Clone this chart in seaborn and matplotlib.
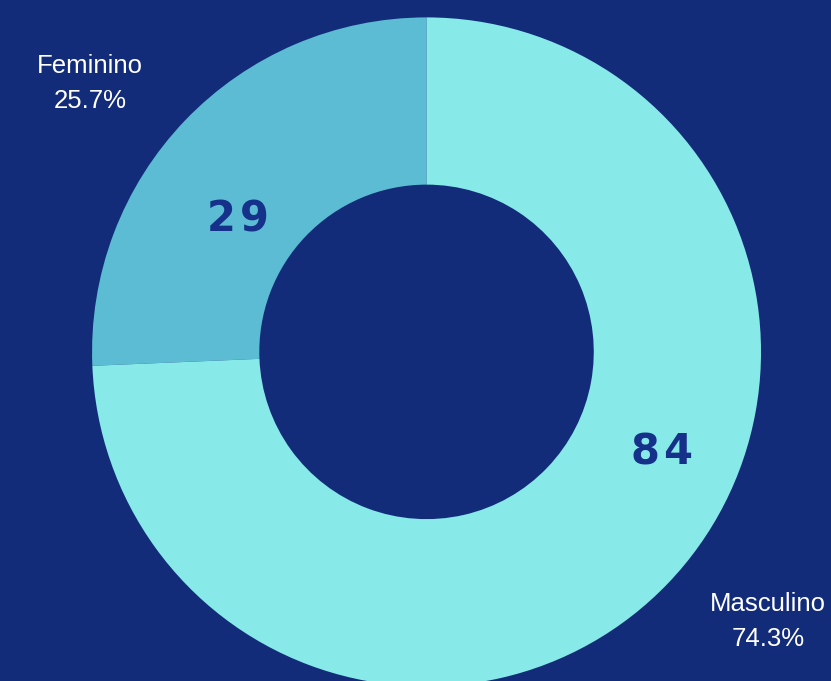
import matplotlib
matplotlib.use('Agg')
import matplotlib.pyplot as plt
import seaborn as sns

# Data
generos = ['Feminino', 'Masculino']
contagens = [29, 84]
percentuais = ['25.7%', '74.3%']
cores = ['#5bbcd4', '#87e9e8']

fundo = '#132c7a'
cor_numero = '#16318a'

sns.set_style('white')
plt.rcParams['font.family'] = ['Liberation Sans', 'DejaVu Sans']

fig = plt.figure(figsize=(8.31, 6.81), dpi=100, facecolor=fundo)
ax = fig.add_axes([0, 0, 1, 1])
ax.set_facecolor(fundo)

ax.pie(contagens, colors=cores, startangle=90, counterclock=True,
       radius=1, wedgeprops=dict(width=0.5, linewidth=0))

# scale so that the pie sits like in the reference
ax.set_xlim(-1.275, 1.209)
ax.set_ylim(-0.984, 1.052)
ax.set_aspect('equal')
ax.axis('off')

# counts inside the ring
pos_numeros = [(-0.563, 0.395), (0.704, -0.302)]
for (x, y), n in zip(pos_numeros, contagens):
    ax.text(x, y, '\u200a'.join(str(n)), ha='center', va='center', fontsize=30,
            fontweight='bold', color=cor_numero, family='DejaVu Sans')

# outside labels
pos_rotulos = [(-1.006, 0.802), (1.021, -0.807)]
for (x, y), g, p in zip(pos_rotulos, generos, percentuais):
    ax.text(x, y, f'{g}\n{p}', ha='center', va='center', fontsize=18.5,
            color='white', linespacing=1.6)

fig.savefig('out.png', dpi=100, facecolor=fundo)
